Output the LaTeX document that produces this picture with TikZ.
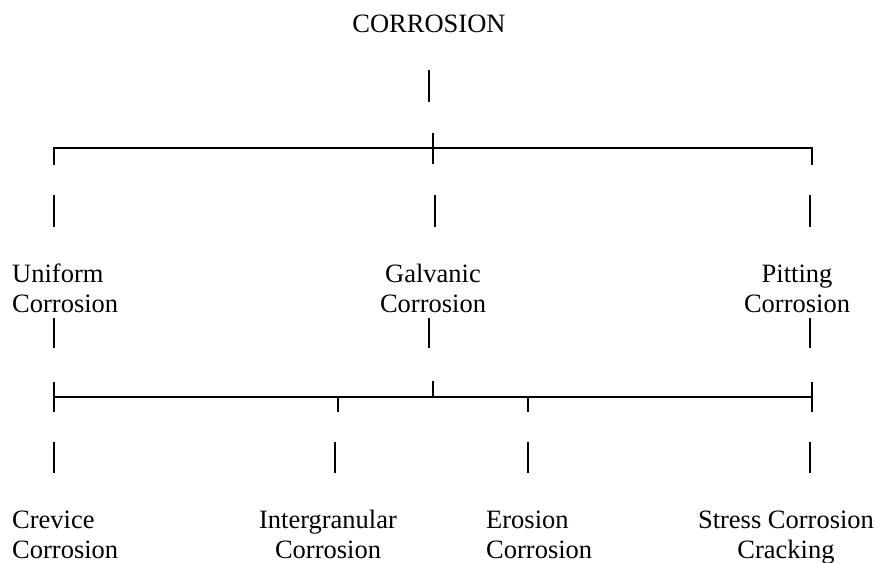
\documentclass[tikz,border=0pt]{standalone}
\usepackage{fontspec}
\setmainfont{Liberation Serif}
\usetikzlibrary{positioning, calc}
\tikzset{
  % --- type labels ---
  kind/.style={font=\fontsize{26.5}{30}\selectfont, inner sep=0pt, align=center},
  kindleft/.style={kind, align=left},
  % --- tree lines ---
  stem/.style={line width=2.2pt},
  bus/.style={line width=2.5pt, line cap=rect},
}
\begin{document}
\begin{tikzpicture}[x=1pt, y=-1pt]
  \useasboundingbox (0,0) rectangle (880,562);
  % ---- Root ----
  \node[kind, anchor=base] (root) at (429,32) {CORROSION};
  \coordinate (rootA) at (429,70);
  \coordinate (rootB) at (429,102);
  \draw[stem] (rootA) -- (rootB);
  % ---- First bus ----
  \coordinate (busAl) at (54,148);
  \coordinate (busAr) at (812,148);
  \coordinate (busAc) at (433,148);
  \draw[bus] ($(busAl)+(0,16)$) -- (busAl) -- (busAr) -- ($(busAr)+(0,16)$);
  \draw[stem] ($(busAc)+(0,-15)$) -- ($(busAc)+(0,16)$);
  \foreach \n/\x in {uni/54, gal/435, pit/810}{
    \coordinate (\n T) at (\x,195);
    \coordinate (\n B) at (\x,227);
    \draw[stem] (\n T) -- (\n B);
  }
  % ---- First level types (base = last line) ----
  \node[kindleft, anchor=base west] (uni) at (12,312) {Uniform\\Corrosion};
  \node[kind, anchor=base] (gal) at (433,312) {Galvanic\\Corrosion};
  \node[kind, anchor=base] (pit) at (797,312) {Pitting\\Corrosion};
  \foreach \n/\x in {uni/54, gal/429, pit/810}{
    \coordinate (\n S) at (\x,318);
    \coordinate (\n E) at (\x,348);
    \draw[stem] (\n S) -- (\n E);
  }
  % ---- Second bus ----
  \coordinate (busBl) at (54,397);
  \coordinate (busBr) at (812,397);
  \coordinate (busBc) at (433,397);
  \draw[bus] (busBl) -- (busBr);
  \draw[stem] ($(busBl)+(0,-15)$) -- ($(busBl)+(0,15)$);
  \draw[stem] ($(busBr)+(0,-15)$) -- ($(busBr)+(0,15)$);
  \draw[stem] ($(busBc)+(0,-16)$) -- (busBc);
  \draw[stem] (338,397) coordinate (busBi) -- ($(busBi)+(0,15)$);
  \draw[stem] (528,397) coordinate (busBe) -- ($(busBe)+(0,15)$);
  \foreach \n/\x in {cre/54, int/335, ero/528, scc/810}{
    \coordinate (\n T) at (\x,442);
    \coordinate (\n B) at (\x,473);
    \draw[stem] (\n T) -- (\n B);
  }
  % ---- Second level types ----
  \node[kindleft, anchor=base west] (cre) at (12,558) {Crevice\\Corrosion};
  \node[kind, anchor=base] (int) at (328,558) {Intergranular\\Corrosion};
  \node[kindleft, anchor=base west] (ero) at (486,558) {Erosion\\Corrosion};
  \node[kind, anchor=base] (scc) at (786,558) {Stress Corrosion\\Cracking};
\end{tikzpicture}
\end{document}
